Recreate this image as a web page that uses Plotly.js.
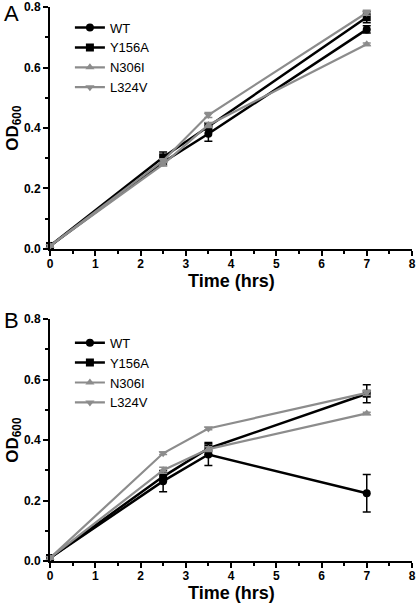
<!DOCTYPE html>
<html>
<head>
<meta charset="utf-8">
<script src="https://cdn.plot.ly/plotly-3.0.1.min.js"></script>
<style>html,body{margin:0;padding:0;background:#fff;}#chart{width:416px;height:604px;}</style>
</head>
<body>
<div id="chart"></div>
<script>
const time = [0, 2.5, 3.5, 7];
const seriesNames = ["WT", "Y156A", "N306I", "L324V"];
const xTickVals = [0, 1, 2, 3, 4, 5, 6, 7, 8];
const xTickText = ["0", "1", "2", "3", "4", "5", "6", "7", "8"];
const yTickVals = [0, 0.2, 0.4, 0.6, 0.8];
const yTickText = ["0.0", "0.2", "0.4", "0.6", "0.8"];

// Panel A
const wtA = [0.01, 0.287, 0.381, 0.726];
const wtAErr = [0, 0.008, 0.025, 0.012];
const y156aA = [0.01, 0.303, 0.405, 0.766];
const y156aAErr = [0, 0.018, 0.012, 0.018];
const n306iA = [0.01, 0.280, 0.410, 0.677];
const n306iAErr = [0, 0.006, 0.008, 0.004];
const l324vA = [0.01, 0.292, 0.443, 0.781];
const l324vAErr = [0, 0.006, 0.008, 0.008];

// Panel B
const wtB = [0.01, 0.264, 0.352, 0.224];
const wtBErr = [0, 0.035, 0.036, 0.062];
const y156aB = [0.01, 0.279, 0.372, 0.553];
const y156aBErr = [0, 0.012, 0.02, 0.03];
const n306iB = [0.01, 0.300, 0.370, 0.488];
const n306iBErr = [0, 0.01, 0.008, 0.004];
const l324vB = [0.01, 0.356, 0.438, 0.556];
const l324vBErr = [0, 0.004, 0.004, 0.008];

const colors = ["#000000", "#000000", "#8c8c8c", "#8c8c8c"];
const symbols = ["circle", "square", "triangle-up", "triangle-down"];
const widths = [2.5, 2.5, 2.2, 2.2];

function mk(i, y, err, xa, ya, leg) {
  return {
    x: time, y: y, name: seriesNames[i], type: "scatter", mode: "lines+markers",
    xaxis: xa, yaxis: ya, legend: leg, cliponaxis: false,
    line: {color: colors[i], width: widths[i]},
    marker: {symbol: symbols[i], size: 8, color: colors[i]},
    error_y: {type: "data", array: err, visible: true, color: colors[i], thickness: 1.5, width: 4}
  };
}

const traces = [
  mk(0, wtA, wtAErr, "x", "y", "legend"),
  mk(1, y156aA, y156aAErr, "x", "y", "legend"),
  mk(2, n306iA, n306iAErr, "x", "y", "legend"),
  mk(3, l324vA, l324vAErr, "x", "y", "legend"),
  mk(0, wtB, wtBErr, "x2", "y2", "legend2"),
  mk(1, y156aB, y156aBErr, "x2", "y2", "legend2"),
  mk(2, n306iB, n306iBErr, "x2", "y2", "legend2"),
  mk(3, l324vB, l324vBErr, "x2", "y2", "legend2")
];

const fam = "Liberation Sans, Arial, sans-serif";
const tickFont = {family: fam, size: 12, color: "#000", weight: "bold"};
const bold = s => "<b>" + s + "</b>";

function xax(anchor) {
  return {
    anchor: anchor, domain: [0, 1], range: [0, 8],
    tickmode: "array", tickvals: xTickVals, ticktext: xTickText.map(bold),
    showgrid: false, zeroline: false, showline: true, linecolor: "#000", linewidth: 2,
    ticks: "outside", ticklen: 5, tickwidth: 2, tickcolor: "#000", ticklabelstandoff: -2,
    tickfont: tickFont,
    minor: {dtick: 0.5, tick0: 0, ticks: "outside", ticklen: 3, tickwidth: 2, tickcolor: "#000"}
  };
}
function yax(anchor, dom) {
  return {
    anchor: anchor, domain: dom, range: [0, 0.8],
    tickmode: "array", tickvals: yTickVals, ticktext: yTickText.map(bold),
    showgrid: false, zeroline: false, showline: true, linecolor: "#000", linewidth: 2,
    ticks: "outside", ticklen: 5, tickwidth: 2, tickcolor: "#000",
    tickfont: tickFont,
    minor: {dtick: 0.1, tick0: 0, ticks: "outside", ticklen: 3, tickwidth: 2, tickcolor: "#000"}
  };
}

const legFont = {family: fam, size: 13, color: "#000"};
const layout = {
  width: 416, height: 604,
  margin: {l: 50, r: 4, t: 7, b: 43},
  paper_bgcolor: "#fff", plot_bgcolor: "#fff",
  showlegend: true,
  xaxis: xax("y"), yaxis: yax("x", [0.5632, 1]),
  xaxis2: xax("y2"), yaxis2: yax("x2", [0, 0.4368]),
  legend: {x: 0.055, y: 0.99, xanchor: "left", yanchor: "top", bgcolor: "rgba(0,0,0,0)",
           font: legFont, tracegroupgap: 0, itemwidth: 30},
  legend2: {x: 0.055, y: 0.421, xanchor: "left", yanchor: "top", bgcolor: "rgba(0,0,0,0)",
            font: legFont, tracegroupgap: 0, itemwidth: 30},
  annotations: [
    {text: "A", xref: "paper", yref: "paper", x: -0.105, y: 0.989, xanchor: "center", yanchor: "middle",
     showarrow: false, font: {family: fam, size: 22, color: "#000"}},
    {text: "B", xref: "paper", yref: "paper", x: -0.105, y: 0.435, xanchor: "center", yanchor: "middle",
     showarrow: false, font: {family: fam, size: 22, color: "#000"}},
    {text: "<b>OD</b><sub><b>600</b></sub>", xref: "paper", yref: "paper", x: -0.1, y: 0.7816, xanchor: "center", yanchor: "middle",
     textangle: -90, showarrow: false, font: {family: fam, size: 17, color: "#000"}},
    {text: "<b>OD</b><sub><b>600</b></sub>", xref: "paper", yref: "paper", x: -0.1, y: 0.2184, xanchor: "center", yanchor: "middle",
     textangle: -90, showarrow: false, font: {family: fam, size: 17, color: "#000"}},
    {text: "<b>Time (hrs)</b>", xref: "paper", yref: "paper", x: 0.5, y: 0.505, xanchor: "center", yanchor: "middle",
     showarrow: false, font: {family: fam, size: 18, color: "#000"}},
    {text: "<b>Time (hrs)</b>", xref: "paper", yref: "paper", x: 0.5, y: -0.058, xanchor: "center", yanchor: "middle",
     showarrow: false, font: {family: fam, size: 18, color: "#000"}}
  ]
};

Plotly.newPlot("chart", traces, layout, {staticPlot: true, displayModeBar: false});
</script>
</body>
</html>
